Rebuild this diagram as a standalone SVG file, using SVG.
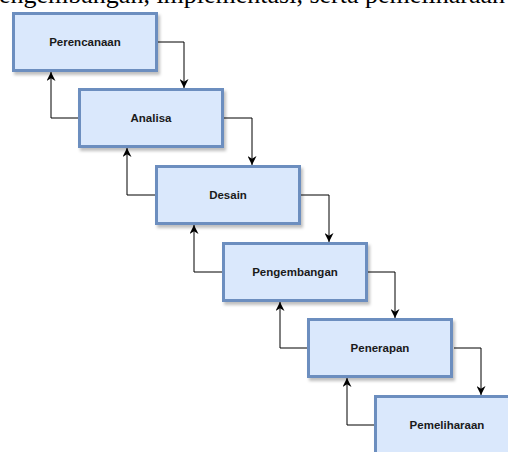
<svg xmlns="http://www.w3.org/2000/svg" width="508" height="452" viewBox="0 0 508 452">
<style>
.box{fill:#dae8fc;stroke:#6c8ebf;stroke-width:3;filter:url(#sh)}
.lbl{font-family:"Liberation Sans",Arial,sans-serif;font-size:11.5px;font-weight:bold;fill:#1a1a1a;text-anchor:middle}
.edge{fill:none;stroke:#000;stroke-width:1;marker-end:url(#arr)}
.para{font-family:"Liberation Serif","Times New Roman",serif;font-size:26px;fill:#000}
</style>
<defs>
<filter id="sh" x="-10%" y="-10%" width="130%" height="140%">
<feDropShadow dx="2" dy="3" stdDeviation="1.5" flood-color="#000" flood-opacity="0.25"/>
</filter>
<marker id="arr" viewBox="0 0 10 10" refX="10" refY="5" markerWidth="9" markerHeight="9" markerUnits="userSpaceOnUse" orient="auto">
<path d="M0,0 L10,5 L0,10 L3,5 z" fill="#000"/>
</marker>
</defs>
<text class="para" x="-1" y="3">engembangan, implementasi, serta pemeliharaan</text>
<g id="connectors">
<path class="edge" d="M157,42 H184 V88"/>
<path class="edge" d="M224,118 H252 V165"/>
<path class="edge" d="M301,195 H329 V242"/>
<path class="edge" d="M367,272 H395 V318"/>
<path class="edge" d="M454,348 H481 V395"/>
<path class="edge" d="M78,118 H51 V72"/>
<path class="edge" d="M155,195 H127 V148"/>
<path class="edge" d="M222,272 H194 V225"/>
<path class="edge" d="M307,348 H280 V302"/>
<path class="edge" d="M374,425 H347 V378"/>
</g>
<g id="perencanaan">
<rect class="box" x="13.5" y="13.5" width="143" height="57"/>
<text class="lbl" x="85" y="46">Perencanaan</text>
</g>
<g id="analisa">
<rect class="box" x="79.5" y="89.5" width="143" height="57"/>
<text class="lbl" x="151" y="122">Analisa</text>
</g>
<g id="desain">
<rect class="box" x="156.5" y="166.5" width="143" height="57"/>
<text class="lbl" x="228" y="199">Desain</text>
</g>
<g id="pengembangan">
<rect class="box" x="223.5" y="243.5" width="143" height="57"/>
<text class="lbl" x="295" y="276">Pengembangan</text>
</g>
<g id="penerapan">
<rect class="box" x="308.5" y="319.5" width="143" height="57"/>
<text class="lbl" x="380" y="352">Penerapan</text>
</g>
<g id="pemeliharaan">
<rect class="box" x="375.5" y="396.5" width="143" height="57"/>
<text class="lbl" x="447" y="429">Pemeliharaan</text>
</g>
</svg>
